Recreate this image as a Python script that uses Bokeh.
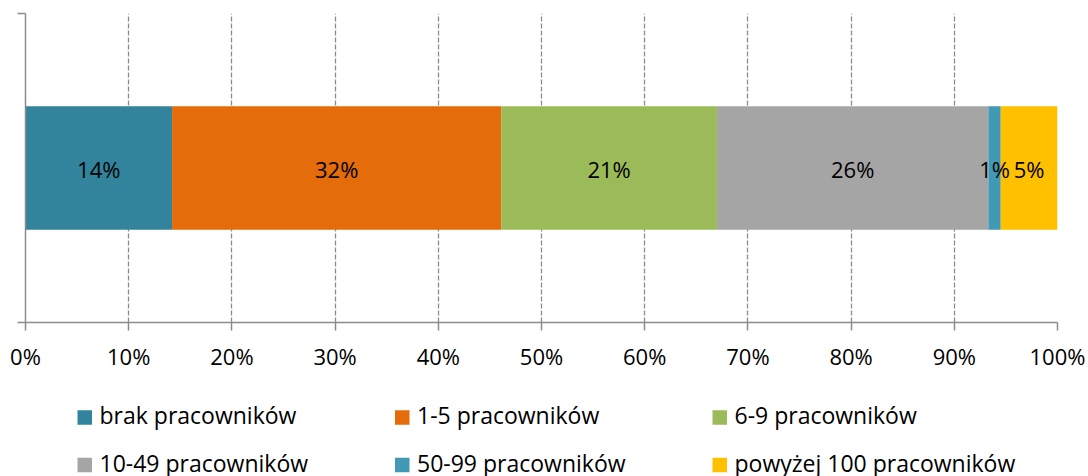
import numpy as np
from bokeh.plotting import figure
from bokeh.models import ColumnDataSource, Range1d, FixedTicker
from bokeh.layouts import column
from bokeh.core.properties import value
from bokeh.embed import file_html
from bokeh.resources import INLINE

# ---- data ----
categories = ["brak pracowników", "1-5 pracowników", "6-9 pracowników",
              "10-49 pracowników", "50-99 pracowników", "powyżej 100 pracowników"]
shares = [14.2, 31.9, 20.9, 26.3, 1.2, 5.5]
share_labels = ["14%", "32%", "21%", "26%", "1%", "5%"]
colors = ["#31849B", "#E46C0A", "#9BBB59", "#A5A5A5", "#4299B5", "#FFC000"]
x_ticks = [0, 10, 20, 30, 40, 50, 60, 70, 80, 90, 100]

FONT = "Open Sans"
AXIS_COLOR = "#8C8C8C"
BL, BR = 25, 31          # plot-frame borders (left/right), shared by both figures
W, H1, H2 = 1088, 380, 96

right = np.cumsum(shares)
left = right - np.array(shares)
src = ColumnDataSource(dict(left=left, right=right, mid=(left + right) / 2,
                            y=[0.5] * len(shares), color=colors, label=share_labels))

p = figure(width=W, height=H1, output_backend="svg", toolbar_location=None,
           x_range=Range1d(0, 100), y_range=Range1d(0, 1),
           min_border_left=BL, min_border_right=BR, min_border_top=13, min_border_bottom=58)
p.outline_line_color = None
p.background_fill_color = "white"
p.border_fill_color = "white"

p.hbar(y="y", left="left", right="right", height=0.4, fill_color="color",
       line_color=None, source=src)
p.text(x="mid", y="y", text="label", source=src, text_align="center",
       text_baseline="alphabetic", y_offset=0.5, text_color="#000000",
       text_font=value(FONT), text_font_size=value("22px"))

# x axis
xa = p.xaxis[0]
xa.ticker = FixedTicker(ticks=x_ticks)
xa.major_label_overrides = {t: f"{t}%" for t in x_ticks}
xa.axis_line_color = AXIS_COLOR
xa.axis_line_width = 1.5
xa.major_tick_line_color = AXIS_COLOR
xa.major_tick_line_width = 1.5
xa.major_tick_out = 8
xa.major_tick_in = 0
xa.minor_tick_line_color = None
xa.major_label_standoff = 10
xa.major_label_text_font = FONT
xa.major_label_text_font_size = "22px"
xa.major_label_text_color = "#000000"

# y axis (category borders only, no labels)
ya = p.yaxis[0]
ya.ticker = FixedTicker(ticks=[0, 1])
ya.major_label_overrides = {0: "", 1: ""}
ya.axis_line_color = AXIS_COLOR
ya.axis_line_width = 1.5
ya.major_tick_line_color = AXIS_COLOR
ya.major_tick_line_width = 1.5
ya.major_tick_out = 8
ya.major_tick_in = 0
ya.minor_tick_line_color = None
ya.major_label_standoff = 0

p.ygrid.grid_line_color = None
p.xgrid.ticker = FixedTicker(ticks=x_ticks)
p.xgrid.grid_line_color = AXIS_COLOR
p.xgrid.grid_line_width = 1.3
p.xgrid.grid_line_dash = "5 2"

# ---- legend figure (frame aligned with the main one; 1 unit = 1 px, page coords) ----
leg = figure(width=W, height=H2, output_backend="svg", toolbar_location=None,
             x_range=Range1d(BL, W - BR), y_range=Range1d(H2, 0),
             x_axis_type=None, y_axis_type=None,
             min_border_left=BL, min_border_right=BR, min_border_top=0, min_border_bottom=0)
leg.outline_line_color = None
leg.xgrid.visible = False
leg.ygrid.visible = False

col_x = [84.25, 401.75, 719.25]
row_y = [37.0, 84.5]
sq_x, sq_y, tx, ty = [], [], [], []
for i in range(len(categories)):
    r, c = divmod(i, 3)
    sq_x.append(col_x[c])
    sq_y.append(row_y[r])
    tx.append(col_x[c] + 14.75)
    ty.append(row_y[r] - 2.2)
lsrc = ColumnDataSource(dict(sx=sq_x, sy=sq_y, tx=tx, ty=ty, color=colors, name=categories))
leg.rect(x="sx", y="sy", width=14.5, height=14.5, fill_color="color", line_color=None, source=lsrc)
leg.text(x="tx", y="ty", text="name", source=lsrc, text_align="left",
         text_baseline="alphabetic", text_color="#000000",
         text_font=value(FONT), text_font_size=value("23px"))

layout = column(p, leg, spacing=0)
open("out.html", "w").write(file_html(layout, INLINE))
